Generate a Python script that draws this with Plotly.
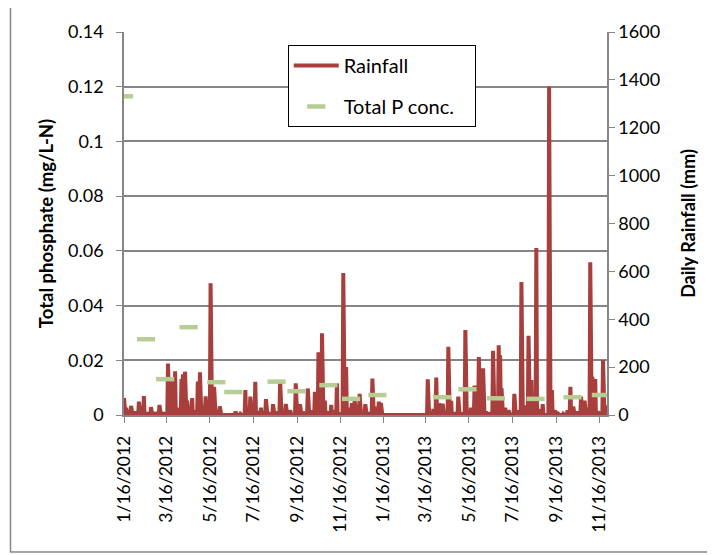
import pandas as pd
import plotly.graph_objects as go

# ---- Daily rainfall (mm): days with visible rain; all other days read as 0 ----
rain_dates = [
    "2012-01-16", "2012-01-19", "2012-01-26", "2012-02-01", "2012-02-06", "2012-02-09",
    "2012-02-13", "2012-02-18", "2012-02-23", "2012-02-29", "2012-03-06", "2012-03-11",
    "2012-03-18", "2012-03-21", "2012-03-24", "2012-03-28", "2012-03-31", "2012-04-06",
    "2012-04-08", "2012-04-11", "2012-04-14", "2012-04-17", "2012-04-21", "2012-04-25",
    "2012-04-29", "2012-05-02", "2012-05-05", "2012-05-10", "2012-05-14", "2012-05-17",
    "2012-05-20", "2012-05-22", "2012-05-26", "2012-05-30", "2012-06-21", "2012-06-28",
    "2012-07-05", "2012-07-07", "2012-07-12", "2012-07-15", "2012-07-19", "2012-07-23",
    "2012-07-27", "2012-08-03", "2012-08-06", "2012-08-13", "2012-08-17", "2012-08-23",
    "2012-08-27", "2012-08-31", "2012-09-06", "2012-09-14", "2012-09-17", "2012-09-20",
    "2012-09-24", "2012-10-01", "2012-10-06", "2012-10-11", "2012-10-16", "2012-10-18",
    "2012-10-21", "2012-10-25", "2012-10-30", "2012-11-03", "2012-11-07", "2012-11-11",
    "2012-11-14", "2012-11-20", "2012-11-24", "2012-11-28", "2012-12-02", "2012-12-06",
    "2012-12-13", "2012-12-17", "2012-12-21", "2012-12-26", "2012-12-31", "2013-01-04",
    "2013-01-09", "2013-01-12", "2013-03-19", "2013-03-22", "2013-03-27", "2013-03-31",
    "2013-04-04", "2013-04-09", "2013-04-12", "2013-04-17", "2013-04-21", "2013-04-26",
    "2013-05-01", "2013-05-05", "2013-05-11", "2013-05-15", "2013-05-19", "2013-05-24",
    "2013-05-27", "2013-05-30", "2013-06-02", "2013-06-05", "2013-06-09", "2013-06-13",
    "2013-06-19", "2013-06-23", "2013-06-27", "2013-06-29", "2013-07-01", "2013-07-06",
    "2013-07-11", "2013-07-19", "2013-07-23", "2013-07-29", "2013-08-03", "2013-08-08",
    "2013-08-12", "2013-08-15", "2013-08-19", "2013-08-24", "2013-08-28", "2013-09-06",
    "2013-09-10", "2013-09-14", "2013-09-19", "2013-09-26", "2013-10-02", "2013-10-06",
    "2013-10-10", "2013-10-15", "2013-10-21", "2013-10-26", "2013-10-29", "2013-11-03",
    "2013-11-06", "2013-11-10", "2013-11-14", "2013-11-21", "2013-11-24", "2013-11-27",
]
rain_mm = [
    71, 30, 38, 15, 56, 20,
    79, 10, 33, 12, 42, 10,
    215, 100, 150, 183, 30, 150,
    170, 181, 60, 25, 71, 20,
    140, 178, 40, 78, 60, 550,
    80, 118, 20, 36, 14, 5,
    104, 30, 77, 20, 139, 15,
    30, 66, 10, 45, 15, 146,
    10, 46, 20, 132, 20, 45,
    15, 111, 20, 97, 262, 200,
    341, 60, 14, 42, 20, 132,
    5, 593, 200, 30, 50, 63,
    88, 15, 45, 10, 152, 35,
    56, 50, 149, 10, 25, 157,
    49, 47, 15, 285, 59, 10,
    77, 10, 355, 20, 30, 123,
    40, 242, 150, 195, 15, 10,
    268, 40, 291, 250, 111, 30,
    20, 88, 20, 556, 40, 331,
    146, 30, 698, 25, 45, 1371,
    104, 20, 5, 5, 20, 118,
    35, 15, 77, 60, 30, 638,
    160, 150, 15, 230, 40, 10,
]

# ---- Total P concentration (mg/L-N) ----
tp_dates = [
    "2012-01-16", "2012-02-16", "2012-03-14", "2012-04-16", "2012-05-25", "2012-06-18",
    "2012-08-18", "2012-09-15", "2012-10-30", "2012-12-01", "2013-01-07", "2013-04-08",
    "2013-05-14", "2013-06-23", "2013-08-18", "2013-10-09", "2013-11-18",
]
tp_values = [
    0.1165, 0.0277, 0.0131, 0.0321, 0.0120, 0.0084,
    0.0122, 0.0087, 0.0109, 0.0059, 0.0073, 0.0065,
    0.0094, 0.0061, 0.0059, 0.0065, 0.0073,
]

# ---- axis ticks ----
x_tick_dates = ["2012-01-16", "2012-03-16", "2012-05-16", "2012-07-16", "2012-09-16",
                "2012-11-16", "2013-01-16", "2013-03-16", "2013-05-16", "2013-07-16",
                "2013-09-16", "2013-11-16"]
x_tick_labels = ["1/16/2012", "3/16/2012", "5/16/2012", "7/16/2012", "9/16/2012",
                 "11/16/2012", "1/16/2013", "3/16/2013", "5/16/2013", "7/16/2013",
                 "9/16/2013", "11/16/2013"]
tp_ticks = [0, 0.02, 0.04, 0.06, 0.08, 0.10, 0.12, 0.14]
tp_tick_labels = ["0", "0.02", "0.04", "0.06", "0.08", "0.1", "0.12", "0.14"]
rain_ticks = [0, 200, 400, 600, 800, 1000, 1200, 1400, 1600]

days = pd.date_range("2012-01-16", "2013-11-27", freq="D")
rain = pd.Series(0.0, index=days)
rain.loc[pd.to_datetime(rain_dates)] = rain_mm

FONT = "Lato"
AXIS_GRAY = "#868686"
RED = "#a83f3c"
GREEN = "#b6cd94"
NB = "\u00a0"

fig = go.Figure()
fig.add_trace(go.Scatter(
    x=rain.index, y=rain.values, name="Rainfall", mode="lines",
    line=dict(color=RED, width=4), yaxis="y", legendgroup="a",
))
fig.add_trace(go.Scatter(
    x=pd.to_datetime(tp_dates), y=tp_values, name="Total P conc." + NB * 3, mode="markers",
    marker=dict(symbol="line-ew", size=13, line=dict(color=GREEN, width=4.5)),
    yaxis="y2", legendgroup="b",
))

fig.update_layout(
    width=715, height=555,
    margin=dict(l=116, r=116, t=24, b=148, autoexpand=False),
    paper_bgcolor="white", plot_bgcolor="rgba(0,0,0,0)",
    font=dict(family=FONT, size=18, color="black"),
    xaxis=dict(
        type="date", range=["2012-01-16", "2013-11-26 14:00"],
        tickvals=x_tick_dates, ticktext=x_tick_labels, tickangle=-90,
        ticks="outside", ticklen=6, tickcolor=AXIS_GRAY, ticklabelstandoff=6,
        showline=True, linecolor=AXIS_GRAY, linewidth=1.5,
        showgrid=False, zeroline=False,
        tickfont=dict(family=FONT, size=17.5),
    ),
    yaxis=dict(
        range=[0, 1600], tickvals=rain_ticks, side="right",
        ticks="outside", ticklen=6, tickcolor=AXIS_GRAY,
        showline=True, linecolor=AXIS_GRAY, linewidth=1.5,
        showgrid=False, zeroline=False,
        title=dict(text="<b>Daily Rainfall (mm)</b>", standoff=23,
                   font=dict(family=FONT, size=18)),
        tickfont=dict(family=FONT, size=18),
    ),
    yaxis2=dict(
        range=[0, 0.14], tickvals=tp_ticks, ticktext=tp_tick_labels,
        overlaying="y", side="left",
        ticks="outside", ticklen=6, tickcolor=AXIS_GRAY, ticklabelstandoff=9,
        showline=True, linecolor=AXIS_GRAY, linewidth=1.5,
        showgrid=True, gridcolor=AXIS_GRAY, gridwidth=1.5, zeroline=False,
        title=dict(text="<b>Total phosphate (mg/L-N)</b>", standoff=10,
                   font=dict(family=FONT, size=18.5)),
        tickfont=dict(family=FONT, size=18),
    ),
    legend=dict(
        x=0.339, y=0.966, xanchor="left", yanchor="top",
        bordercolor="black", borderwidth=1, bgcolor="white",
        font=dict(family=FONT, size=20), itemwidth=45,
        traceorder="grouped", tracegroupgap=12,
    ),
    shapes=[dict(type="rect", xref="paper", yref="paper",
                 x0=-0.235, x1=1.209, y0=-0.358, y1=1.07,
                 line=dict(color=AXIS_GRAY, width=1.5))],
)

fig.write_html("out.html")
